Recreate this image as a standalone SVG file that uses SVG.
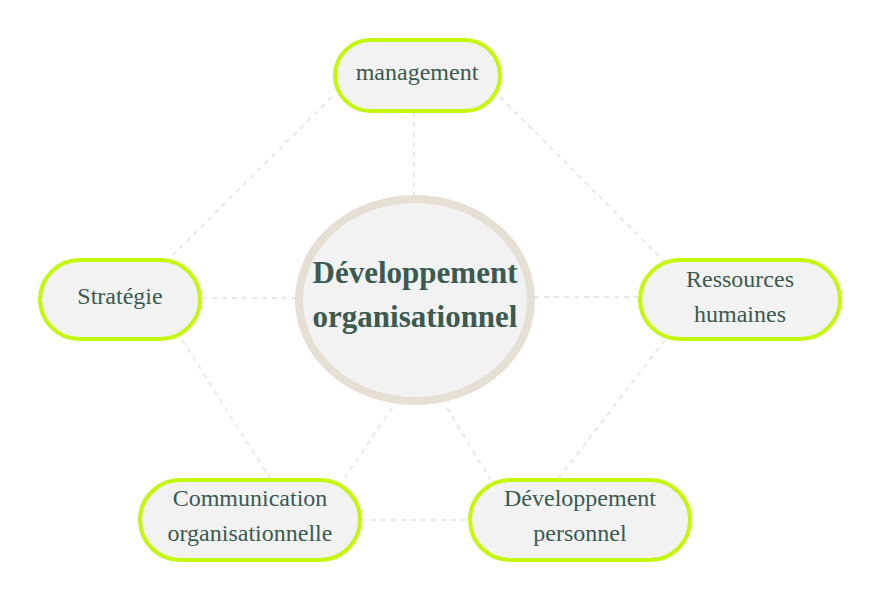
<svg xmlns="http://www.w3.org/2000/svg" width="880" height="600" viewBox="0 0 880 600">
<style>
.conn{stroke:#e9e9e9;stroke-width:2;stroke-dasharray:5 5;fill:none}
.pill{fill:#f2f2f2;stroke:#c3f80a;stroke-width:4}
.lbl{font-family:"Liberation Serif","Times New Roman",serif;font-size:24px;fill:#3b5a50;text-anchor:middle}
.main{font-family:"Liberation Serif","Times New Roman",serif;font-size:31px;font-weight:bold;fill:#3b5a50;text-anchor:middle}
</style>
<rect width="880" height="600" fill="#ffffff"/>
<g id="connectors">
<line class="conn" x1="414" y1="112" x2="414" y2="196"/>
<line class="conn" x1="332" y1="97" x2="170" y2="258"/>
<line class="conn" x1="500" y1="97" x2="665" y2="262"/>
<line class="conn" x1="202" y1="298" x2="296" y2="298"/>
<line class="conn" x1="534" y1="297" x2="638" y2="297"/>
<line class="conn" x1="182" y1="340" x2="270" y2="478"/>
<line class="conn" x1="392" y1="408" x2="345" y2="478"/>
<line class="conn" x1="447" y1="408" x2="490" y2="479"/>
<line class="conn" x1="665" y1="340" x2="558" y2="479"/>
<line class="conn" x1="361" y1="520" x2="469" y2="520"/>
</g>
<g id="center">
<ellipse cx="415" cy="300" rx="116" ry="101" fill="#f2f2f2" stroke="#e6dfd4" stroke-width="8"/>
<text class="main" x="415" y="283">Développement</text>
<text class="main" x="415" y="327">organisationnel</text>
</g>
<g id="management">
<rect class="pill" x="335" y="40" width="165" height="71" rx="35.5"/>
<text class="lbl" x="417" y="80">management</text>
</g>
<g id="strategie">
<rect class="pill" x="40" y="260" width="160" height="79" rx="39.5"/>
<text class="lbl" x="120" y="304">Stratégie</text>
</g>
<g id="ressources">
<rect class="pill" x="640" y="260" width="200" height="79" rx="39.5"/>
<text class="lbl" x="740" y="287">Ressources</text>
<text class="lbl" x="740" y="322">humaines</text>
</g>
<g id="communication">
<rect class="pill" x="140" y="480" width="220" height="80" rx="40"/>
<text class="lbl" x="250" y="506">Communication</text>
<text class="lbl" x="250" y="541">organisationnelle</text>
</g>
<g id="devperso">
<rect class="pill" x="470" y="480" width="220" height="80" rx="40"/>
<text class="lbl" x="580" y="506">Développement</text>
<text class="lbl" x="580" y="541">personnel</text>
</g>
</svg>
